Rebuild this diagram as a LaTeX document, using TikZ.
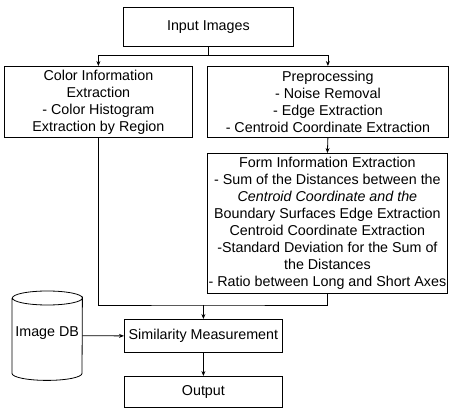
\documentclass[tikz,border=0pt]{standalone}
\usepackage{fontspec}
\setmainfont{Liberation Sans}
\usetikzlibrary{arrows.meta}
\begin{document}
\begin{tikzpicture}[x=1pt,y=-1pt,
  every node/.style={font=\fontsize{14.3}{17}\selectfont, inner sep=0pt},
  box/.style={draw, line width=0.8pt, align=center, anchor=north west},
  link/.style={line width=0.8pt},
  arr/.style={line width=0.8pt, -{Stealth[length=5pt,width=4pt]}}]
\useasboundingbox (0,0) rectangle (451,409);
\node[box, minimum width=170pt, minimum height=39pt] (in) at (123,7) {Input Images};
\node[box, minimum width=188pt, minimum height=71pt] (col) at (4,66)
  {Color Information\\Extraction\\- Color Histogram\\Extraction by Region};
\node[box, minimum width=241pt, minimum height=71pt] (pre) at (207,66)
  {Preprocessing\\- Noise Removal\\- Edge Extraction\\- Centroid Coordinate Extraction};
\node[box, minimum width=240pt, minimum height=140pt] (form) at (207,153)
  {Form Information Extraction\\- Sum of the Distances between the\\\textit{Centroid Coordinate and the}\\Boundary Surfaces Edge Extraction\\Centroid Coordinate Extraction\\-Standard Deviation for the Sum of\\the Distances\\- Ratio between Long and Short Axes};
\node[box, minimum width=158pt, minimum height=33pt] (sim) at (124,319) {Similarity Measurement};
\node[box, minimum width=158pt, minimum height=31pt] (out) at (124,376) {Output};
\node[anchor=north west, minimum width=70pt, minimum height=61pt] (db) at (12,305) {};
\node at ([yshift=3pt]db.center) {Image DB};
% cylinder drawing
\draw[link] ([yshift=7pt]db.north west) -- ([yshift=-7pt]db.south west)
  arc[start angle=180, end angle=360, x radius=35pt, y radius=7pt]
  -- ([yshift=7pt]db.north east)
  arc[start angle=0, end angle=-180, x radius=35pt, y radius=7pt]
  arc[start angle=180, end angle=0, x radius=35pt, y radius=7pt];
% connectors
\coordinate (s) at (in.south |- 0,55);
\draw[link] (in.south) -- (s);
\draw[arr] (s) -| (col.north);
\draw[arr] (s) -| (pre.north);
\draw[arr] (pre.south) -- (form.north);
\coordinate (j) at (sim.north |- 0,305);
\draw[link] (col.south) |- (j) -| (form.south);
\draw[arr] (j) -- (sim.north);
\draw[arr] (db.east) -- (sim.west);
\draw[arr] (sim.south) -- (out.north);
\end{tikzpicture}
\end{document}
